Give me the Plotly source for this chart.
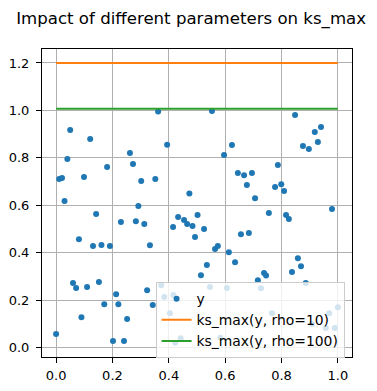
import plotly.graph_objects as go

x_pts = [0.000, 0.011, 0.021, 0.030, 0.040, 0.050, 0.060, 0.071, 0.081, 0.090,
         0.099, 0.110, 0.121, 0.131, 0.142, 0.152, 0.161, 0.171, 0.181, 0.191,
         0.202, 0.213, 0.221, 0.230, 0.241, 0.252, 0.262, 0.273, 0.283, 0.292,
         0.302, 0.313, 0.323, 0.333, 0.343, 0.352, 0.362, 0.373, 0.384, 0.394,
         0.404, 0.415, 0.416, 0.423, 0.433, 0.442, 0.454, 0.465, 0.473, 0.484,
         0.493, 0.502, 0.514, 0.525, 0.535, 0.546, 0.553, 0.564, 0.574, 0.583,
         0.596, 0.606, 0.613, 0.624, 0.635, 0.645, 0.656, 0.667, 0.677, 0.684,
         0.695, 0.706, 0.716, 0.727, 0.738, 0.745, 0.755, 0.766, 0.777, 0.787,
         0.799, 0.809, 0.816, 0.826, 0.837, 0.848, 0.858, 0.869, 0.876, 0.886,
         0.897, 0.908, 0.918, 0.929, 0.940, 0.957, 0.969, 0.979, 0.989, 1.000]
y_pts = [0.057, 0.711, 0.715, 0.618, 0.795, 0.917, 0.272, 0.251, 0.457, 0.128,
         0.719, 0.255, 0.879, 0.428, 0.563, 0.276, 0.432, 0.183, 0.761, 0.428,
         0.027, 0.225, 0.183, 0.529, 0.027, 0.120, 0.820, 0.774, 0.533, 0.597,
         0.702, 0.521, 0.242, 0.431, 0.179, 0.711, 0.995, 0.263, 0.213, 0.855,
         0.145, 0.508, 0.221, 0.020, 0.550, 0.039, 0.538, 0.521, 0.650, 0.512,
         0.466, 0.559, 0.305, 0.500, 0.348, 0.255, 0.997, 0.415, 0.428, 0.041,
         0.812, 0.251, 0.402, 0.854, 0.360, 0.736, 0.478, 0.727, 0.685, 0.483,
         0.736, 0.630, 0.284, 0.250, 0.314, 0.304, 0.567, 0.145, 0.677, 0.770,
         0.689, 0.660, 0.559, 0.542, 0.318, 0.981, 0.377, 0.343, 0.850, 0.272,
         0.837, 0.099, 0.909, 0.867, 0.930, 0.082, 0.145, 0.584, 0.082, 0.170]

ks_rho10 = 1.2
ks_rho100 = 1.007

x_ticks = [0.0, 0.2, 0.4, 0.6, 0.8, 1.0]
x_tick_labels = ["0.0", "0.2", "0.4", "0.6", "0.8", "1.0"]
y_ticks = [0.0, 0.2, 0.4, 0.6, 0.8, 1.0, 1.2]
y_tick_labels = ["0.0", "0.2", "0.4", "0.6", "0.8", "1.0", "1.2"]

line_x = [x_pts[0], x_pts[-1]]

fig = go.Figure()
fig.add_trace(go.Scatter(x=x_pts, y=y_pts, mode="markers", name="y",
                         marker=dict(color="#1f77b4", size=6, line=dict(width=0))))
fig.add_trace(go.Scatter(x=line_x, y=[ks_rho10] * len(line_x), mode="lines",
                         name="ks_max(y, rho=10)", line=dict(color="#ff7f0e", width=2)))
fig.add_trace(go.Scatter(x=line_x, y=[ks_rho100] * len(line_x), mode="lines",
                         name="ks_max(y, rho=100)", line=dict(color="#2ca02c", width=2)))

axis_common = dict(showline=True, mirror=True, linecolor="black", linewidth=1,
                   ticks="outside", ticklen=5, tickcolor="black", tickwidth=1,
                   showgrid=True, gridcolor="#b0b0b0", gridwidth=1, automargin=False,
                   zeroline=False, tickfont=dict(family="DejaVu Sans", size=13, color="black"))

fig.update_layout(
    width=377, height=391,
    margin=dict(l=42, r=25, t=49, b=34),
    paper_bgcolor="white", plot_bgcolor="white",
    title=dict(text="Impact of different parameters on ks_max", x=0.507, xanchor="center",
               xref="container", y=1 - 18 / 391, yref="container", yanchor="middle",
               font=dict(family="DejaVu Sans", size=16.6, color="black")),
    font=dict(family="DejaVu Sans", size=13, color="black"),
    xaxis=dict(range=[-0.05, 1.05], tickvals=x_ticks, ticktext=x_tick_labels,
               ticklabelstandoff=1, **axis_common),
    yaxis=dict(range=[-0.04, 1.259], tickvals=y_ticks, ticktext=y_tick_labels,
               ticklabelstandoff=4, **axis_common),
    legend=dict(x=0.976, y=-0.004, xanchor="right", yanchor="bottom",
                bgcolor="rgba(255,255,255,0.8)", bordercolor="#cccccc", borderwidth=1,
                font=dict(family="DejaVu Sans", size=13.9, color="black")),
    showlegend=True,
)

fig.write_html("out.html", config={"displayModeBar": False},
               post_script="document.body.style.margin='0';")
